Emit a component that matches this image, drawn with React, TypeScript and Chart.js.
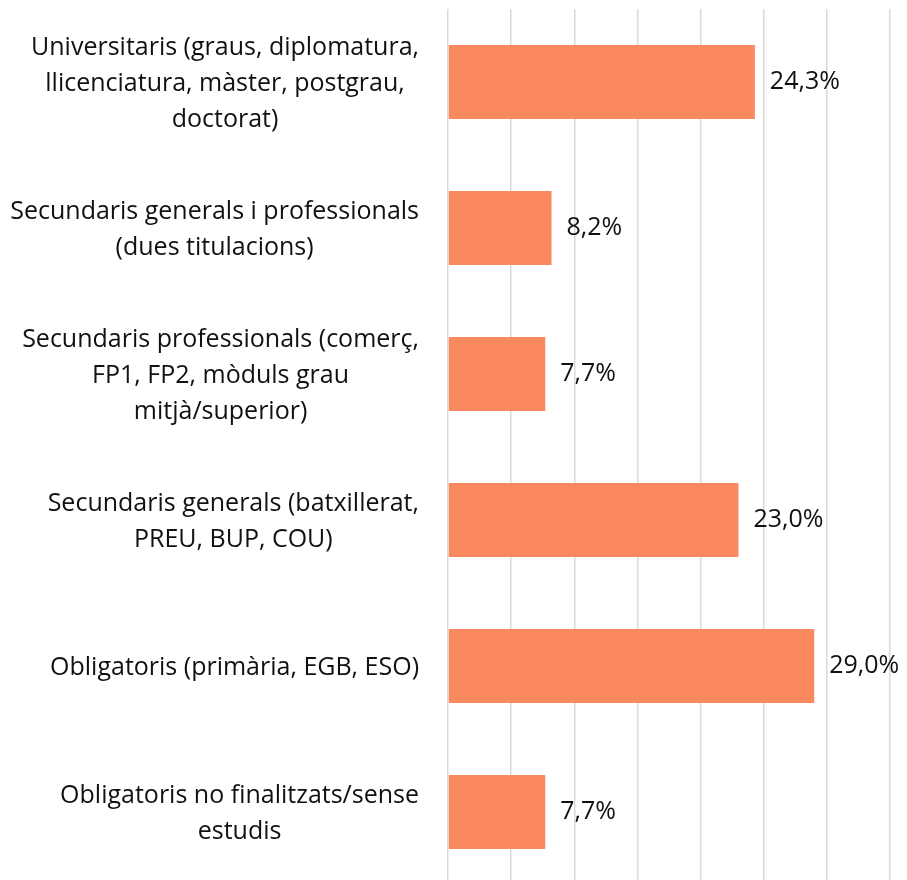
import React, { useEffect, useRef } from "react";
import { Chart, registerables } from "chart.js";
Chart.register(...registerables);

const categories: string[][] = [
  ["Universitaris (graus, diplomatura,", "llicenciatura, màster, postgrau,", "doctorat)"],
  ["Secundaris generals i professionals", "(dues titulacions)"],
  ["Secundaris professionals (comerç,", "FP1, FP2, mòduls grau", "mitjà/superior)"],
  ["Secundaris generals (batxillerat,", "PREU, BUP, COU)"],
  ["Obligatoris (primària, EGB, ESO)"],
  ["Obligatoris no finalitzats/sense", "estudis"],
];
const values: number[] = [24.3, 8.2, 7.7, 23.0, 29.0, 7.7];
const valueLabels: string[] = ["24,3%", "8,2%", "7,7%", "23,0%", "29,0%", "7,7%"];
const xMin = 0;
const xMax = 35;
const xStep = 5;

const FONT = "'Open Sans'";
const FONT_SIZE = 25;
const LINE_HEIGHT = 36;
const BAR_COLOR = "#FB8960";
const TEXT_COLOR = "#111111";

export default function App() {
  const ref = useRef<HTMLCanvasElement>(null);
  useEffect(() => {
    document.body.style.margin = "0";
    const labelPlugin = {
      id: "labelsDraw",
      afterDatasetsDraw(chart: any) {
        const ctx = chart.ctx;
        const meta = chart.getDatasetMeta(0);
        const yScale = chart.scales.y;
        ctx.save();
        ctx.font = `${FONT_SIZE}px ${FONT}`;
        ctx.fillStyle = TEXT_COLOR;
        ctx.textBaseline = "middle";
        // value labels
        ctx.textAlign = "left";
        meta.data.forEach((bar: any, i: number) => {
          ctx.fillText(valueLabels[i], bar.x + 15, bar.y);
        });
        // category labels: block right-aligned, lines centred within block
        ctx.textAlign = "center";
        const rightEdge = chart.chartArea.left - 29;
        categories.forEach((lines, i) => {
          const y = yScale.getPixelForValue(i);
          const widest = Math.max(...lines.map((l) => ctx.measureText(l).width));
          const cx = rightEdge - widest / 2;
          const n = lines.length;
          lines.forEach((line, j) => {
            ctx.fillText(line, cx, y + (j - (n - 1) / 2) * LINE_HEIGHT + 2);
          });
        });
        ctx.restore();
      },
    };
    const chart = new Chart(ref.current as HTMLCanvasElement, {
      type: "bar",
      data: {
        labels: categories.map((c) => c.join(" ")),
        datasets: [
          {
            data: values,
            backgroundColor: BAR_COLOR,
            categoryPercentage: 1,
            barPercentage: 0.507,
          },
        ],
      },
      options: {
        indexAxis: "y",
        responsive: false,
        animation: false,
        layout: { padding: { top: 9, bottom: 5, left: 0, right: 17 } },
        plugins: { legend: { display: false }, tooltip: { enabled: false } },
        scales: {
          x: {
            min: xMin,
            max: xMax,
            ticks: { display: false, stepSize: xStep },
            grid: { color: "#d9d9d9", lineWidth: 1.5, drawTicks: false },
            border: { display: false },
            afterFit: (s: any) => {
              s.height = 0;
              s.paddingLeft = 0;
              s.paddingRight = 0;
            },
          },
          y: {
            ticks: { display: false },
            grid: { display: false },
            border: { display: false },
            afterFit: (s: any) => {
              s.width = 448;
              s.paddingTop = 0;
              s.paddingBottom = 0;
            },
          },
        },
      },
      plugins: [labelPlugin],
    } as any);
    return () => chart.destroy();
  }, []);
  return (
    <div style={{ width: 907, height: 880, overflow: "hidden", background: "#fff" }}>
      <canvas ref={ref} width={907} height={890} style={{ display: "block", width: 907, height: 890 }} />
    </div>
  );
}
